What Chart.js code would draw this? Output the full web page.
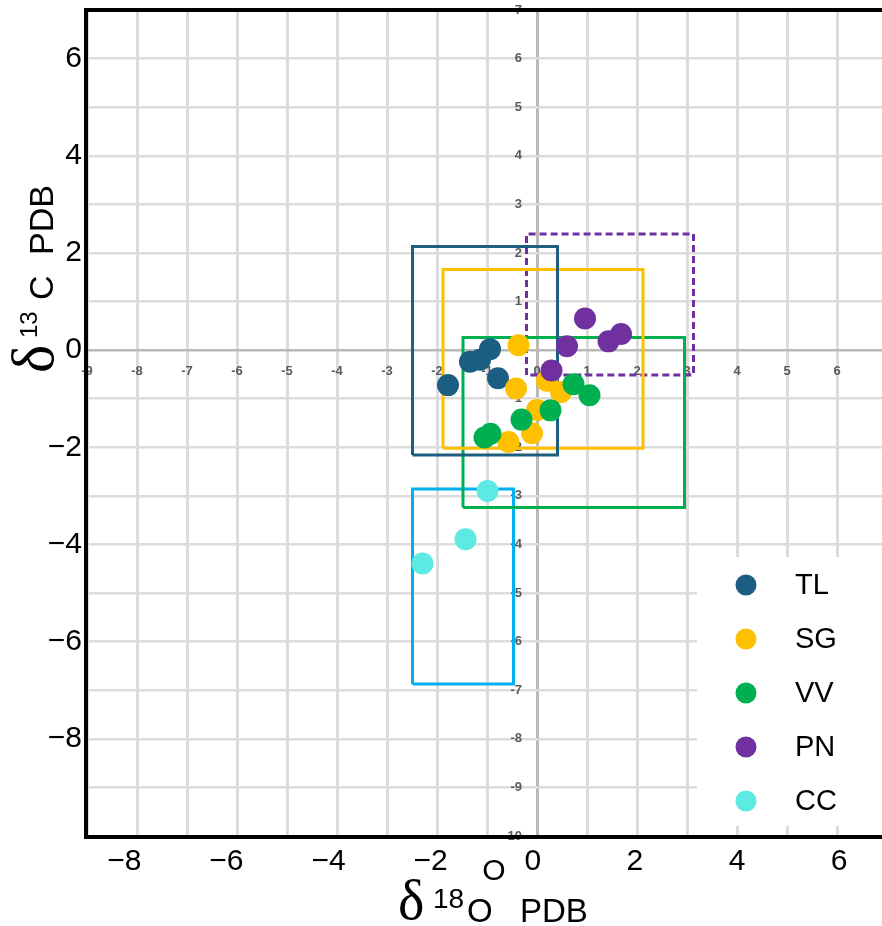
<!DOCTYPE html>
<html>
<head>
<meta charset="utf-8">
<script src="https://cdn.jsdelivr.net/npm/chart.js@4.4.1/dist/chart.umd.min.js"></script>
<style>
    html, body { margin: 0; padding: 0; background: #fff; overflow: hidden; }
    canvas { display: block; }
</style>
</head>
<body>
<canvas id="isotope-chart" width="882" height="926"></canvas>
<script>
const groupNames = ['TL', 'SG', 'VV', 'PN', 'CC'];
const groupColors = ['#1b5e82', '#ffc000', '#00b050', '#7030a0', '#5ceae2'];
const boxColors = ['#1d5f80', '#ffc000', '#00b050', '#7030a0', '#00b0f0'];

// d18O (x) and d13C (y) per site
const tlX = [-1.78, -1.34, -1.14, -0.94, -0.78];
const tlY = [-0.72, -0.24, -0.20, 0.02, -0.58];
const sgX = [-0.37, -0.42, 0.20, 0.48, 0.00, -0.10, -0.57];
const sgY = [0.10, -0.79, -0.63, -0.86, -1.23, -1.71, -1.89];
const vvX = [0.73, 1.05, 0.27, -0.31, -1.05, -0.93];
const vvY = [-0.70, -0.93, -1.24, -1.43, -1.80, -1.72];
const pnX = [0.96, 0.60, 1.43, 1.68, 0.29];
const pnY = [0.65, 0.08, 0.18, 0.33, -0.42];
const ccX = [-0.99, -1.43, -2.29];
const ccY = [-2.90, -3.89, -4.39];

// range boxes, same order as groupNames
const boxLeft = [-2.49, -1.88, -1.48, -0.21, -2.49];
const boxRight = [0.41, 2.12, 2.95, 3.13, -0.47];
const boxBottom = [-2.16, -2.02, -3.24, -0.51, -6.87];
const boxTop = [2.13, 1.66, 0.26, 2.39, -2.86];

const xInnerTicks = [-9, -8, -7, -6, -5, -4, -3, -2, -1, 0, 1, 2, 3, 4, 5, 6];
const yInnerTicks = [-10, -9, -8, -7, -6, -5, -4, -3, -2, -1, 0, 1, 2, 3, 4, 5, 6, 7];
const xOuterTicks = [-8, -6, -4, -2, 0, 2, 4, 6];
const yOuterTicks = [-8, -6, -4, -2, 0, 2, 4, 6];

const seriesX = [tlX, sgX, vvX, pnX, ccX];
const seriesY = [tlY, sgY, vvY, pnY, ccY];

function toPoints(xs, ys) {
    return xs.map((x, i) => ({ x: x, y: ys[i] }));
}

const pointSets = groupNames.map((name, i) => ({
    label: name,
    data: toPoints(seriesX[i], seriesY[i]),
    backgroundColor: groupColors[i],
    borderWidth: 0,
    pointRadius: 11,
    pointHoverRadius: 11,
    order: 5 - i
}));

const boxSets = groupNames.map((name, i) => ({
    label: name + ' range',
    data: [
        { x: boxLeft[i], y: boxBottom[i] },
        { x: boxLeft[i], y: boxTop[i] },
        { x: boxRight[i], y: boxTop[i] },
        { x: boxRight[i], y: boxBottom[i] },
        { x: boxLeft[i], y: boxBottom[i] }
    ],
    showLine: true,
    fill: false,
    borderColor: boxColors[i],
    borderWidth: 3,
    borderDash: name === 'PN' ? [7, 4] : [],
    pointRadius: 0,
    tension: 0,
    order: 10
}));

const gridColor = ctx => (ctx.tick && ctx.tick.value === 0) ? '#b9b9b9' : '#dcdcdc';
const innerFont = { family: 'Liberation Sans', size: 13, weight: 'bold' };
const outerFont = { family: 'Liberation Sans', size: 30 };
const minus = v => (v < 0 ? '\u2212' + Math.abs(v) : String(v));

// keep the label overhang from shrinking the plot area
function noPadding(scale) {
    scale.paddingTop = 0;
    scale.paddingBottom = 0;
    scale.paddingLeft = 0;
    scale.paddingRight = 0;
}

const cornerLegend = {
    id: 'cornerLegend',
    afterDatasetsDraw(chart) {
        const ctx = chart.ctx;
        ctx.save();
        ctx.fillStyle = '#fff';
        ctx.fillRect(697, 557, 185, 269);
        groupNames.forEach((name, i) => {
            const y = 585 + i * 54;
            ctx.beginPath();
            ctx.arc(746, y, 10.5, 0, Math.PI * 2);
            ctx.fillStyle = groupColors[i];
            ctx.fill();
            ctx.fillStyle = '#000';
            ctx.font = '29px "Liberation Sans"';
            ctx.textAlign = 'left';
            ctx.textBaseline = 'middle';
            ctx.fillText(name, 795, y + 1);
        });
        ctx.restore();
    }
};

const frameAndTitles = {
    id: 'frameAndTitles',
    afterDraw(chart) {
        const ctx = chart.ctx;
        const area = chart.chartArea;
        ctx.save();
        ctx.strokeStyle = '#000';
        ctx.lineWidth = 4;
        ctx.beginPath();
        ctx.moveTo(area.right, area.top);
        ctx.lineTo(area.left - 1, area.top);
        ctx.lineTo(area.left - 1, area.bottom + 1);
        ctx.lineTo(area.right, area.bottom + 1);
        ctx.stroke();

        ctx.fillStyle = '#000';
        ctx.textAlign = 'left';
        ctx.textBaseline = 'alphabetic';

        // x title
        ctx.font = '56px "Liberation Serif"';
        ctx.fillText('δ', 398, 919);
        ctx.font = '28px "Liberation Sans"';
        ctx.fillText('18', 433, 908);
        ctx.font = '33px "Liberation Sans"';
        ctx.fillText('O', 467, 922);
        ctx.fillText('PDB', 520, 922);

        ctx.font = '30px "Liberation Sans"';
        ctx.textAlign = 'center';
        ctx.textBaseline = 'middle';
        ctx.fillText('O', 494, 872);

        // y title
        ctx.translate(53, 373);
        ctx.rotate(-Math.PI / 2);
        ctx.textAlign = 'left';
        ctx.textBaseline = 'alphabetic';
        ctx.font = '60px "Liberation Serif"';
        ctx.fillText('δ', 0, 0);
        ctx.font = '24px "Liberation Sans"';
        ctx.fillText('13', 35, -16);
        ctx.font = '34px "Liberation Sans"';
        ctx.fillText('C', 73, 0);
        ctx.fillText('PDB', 118, 0);
        ctx.restore();
    }
};

const chartCanvas = document.getElementById('isotope-chart').getContext('2d');

window.isotopeChart = new Chart(chartCanvas, {
    type: 'scatter',
    data: {
        datasets: pointSets.concat(boxSets)
    },
    options: {
        responsive: false,
        animation: false,
        layout: {
            autoPadding: false,
            padding: { top: 10, left: 0, right: 0, bottom: 0 }
        },
        plugins: {
            legend: { display: false },
            tooltip: { enabled: false }
        },
        scales: {
            x: {
                type: 'linear',
                min: -9,
                max: 6.9,
                position: { y: 0 },
                afterBuildTicks: scale => { scale.ticks = xInnerTicks.map(v => ({ value: v })); },
                afterFit: noPadding,
                grid: { color: gridColor, lineWidth: 3, drawTicks: false },
                border: { display: false },
                ticks: { font: innerFont, color: '#5a5a5a', padding: 14, maxRotation: 0, autoSkip: false }
            },
            y: {
                type: 'linear',
                min: -10,
                max: 7,
                position: { x: -0.3 },
                afterBuildTicks: scale => { scale.ticks = yInnerTicks.map(v => ({ value: v })); },
                afterFit: noPadding,
                grid: { color: gridColor, lineWidth: 2.5, drawTicks: false },
                border: { display: false },
                ticks: { font: innerFont, color: '#5a5a5a', padding: 0, autoSkip: false }
            },
            x2: {
                type: 'linear',
                axis: 'x',
                position: 'bottom',
                min: -8.73,
                max: 6.84,
                afterBuildTicks: scale => { scale.ticks = xOuterTicks.map(v => ({ value: v })); },
                afterFit: scale => { noPadding(scale); scale.height = 90; },
                grid: { display: false, drawTicks: false },
                border: { display: false },
                ticks: { font: outerFont, color: '#000', padding: 8, maxRotation: 0, autoSkip: false, callback: minus }
            },
            y2: {
                type: 'linear',
                axis: 'y',
                position: 'left',
                min: -10,
                max: 7,
                afterBuildTicks: scale => { scale.ticks = yOuterTicks.map(v => ({ value: v })); },
                afterFit: scale => { noPadding(scale); scale.width = 87; },
                grid: { display: false, drawTicks: false },
                border: { display: false },
                ticks: { font: outerFont, color: '#000', padding: 5, autoSkip: false, callback: minus }
            }
        }
    },
    plugins: [cornerLegend, frameAndTitles]
});
</script>
</body>
</html>
